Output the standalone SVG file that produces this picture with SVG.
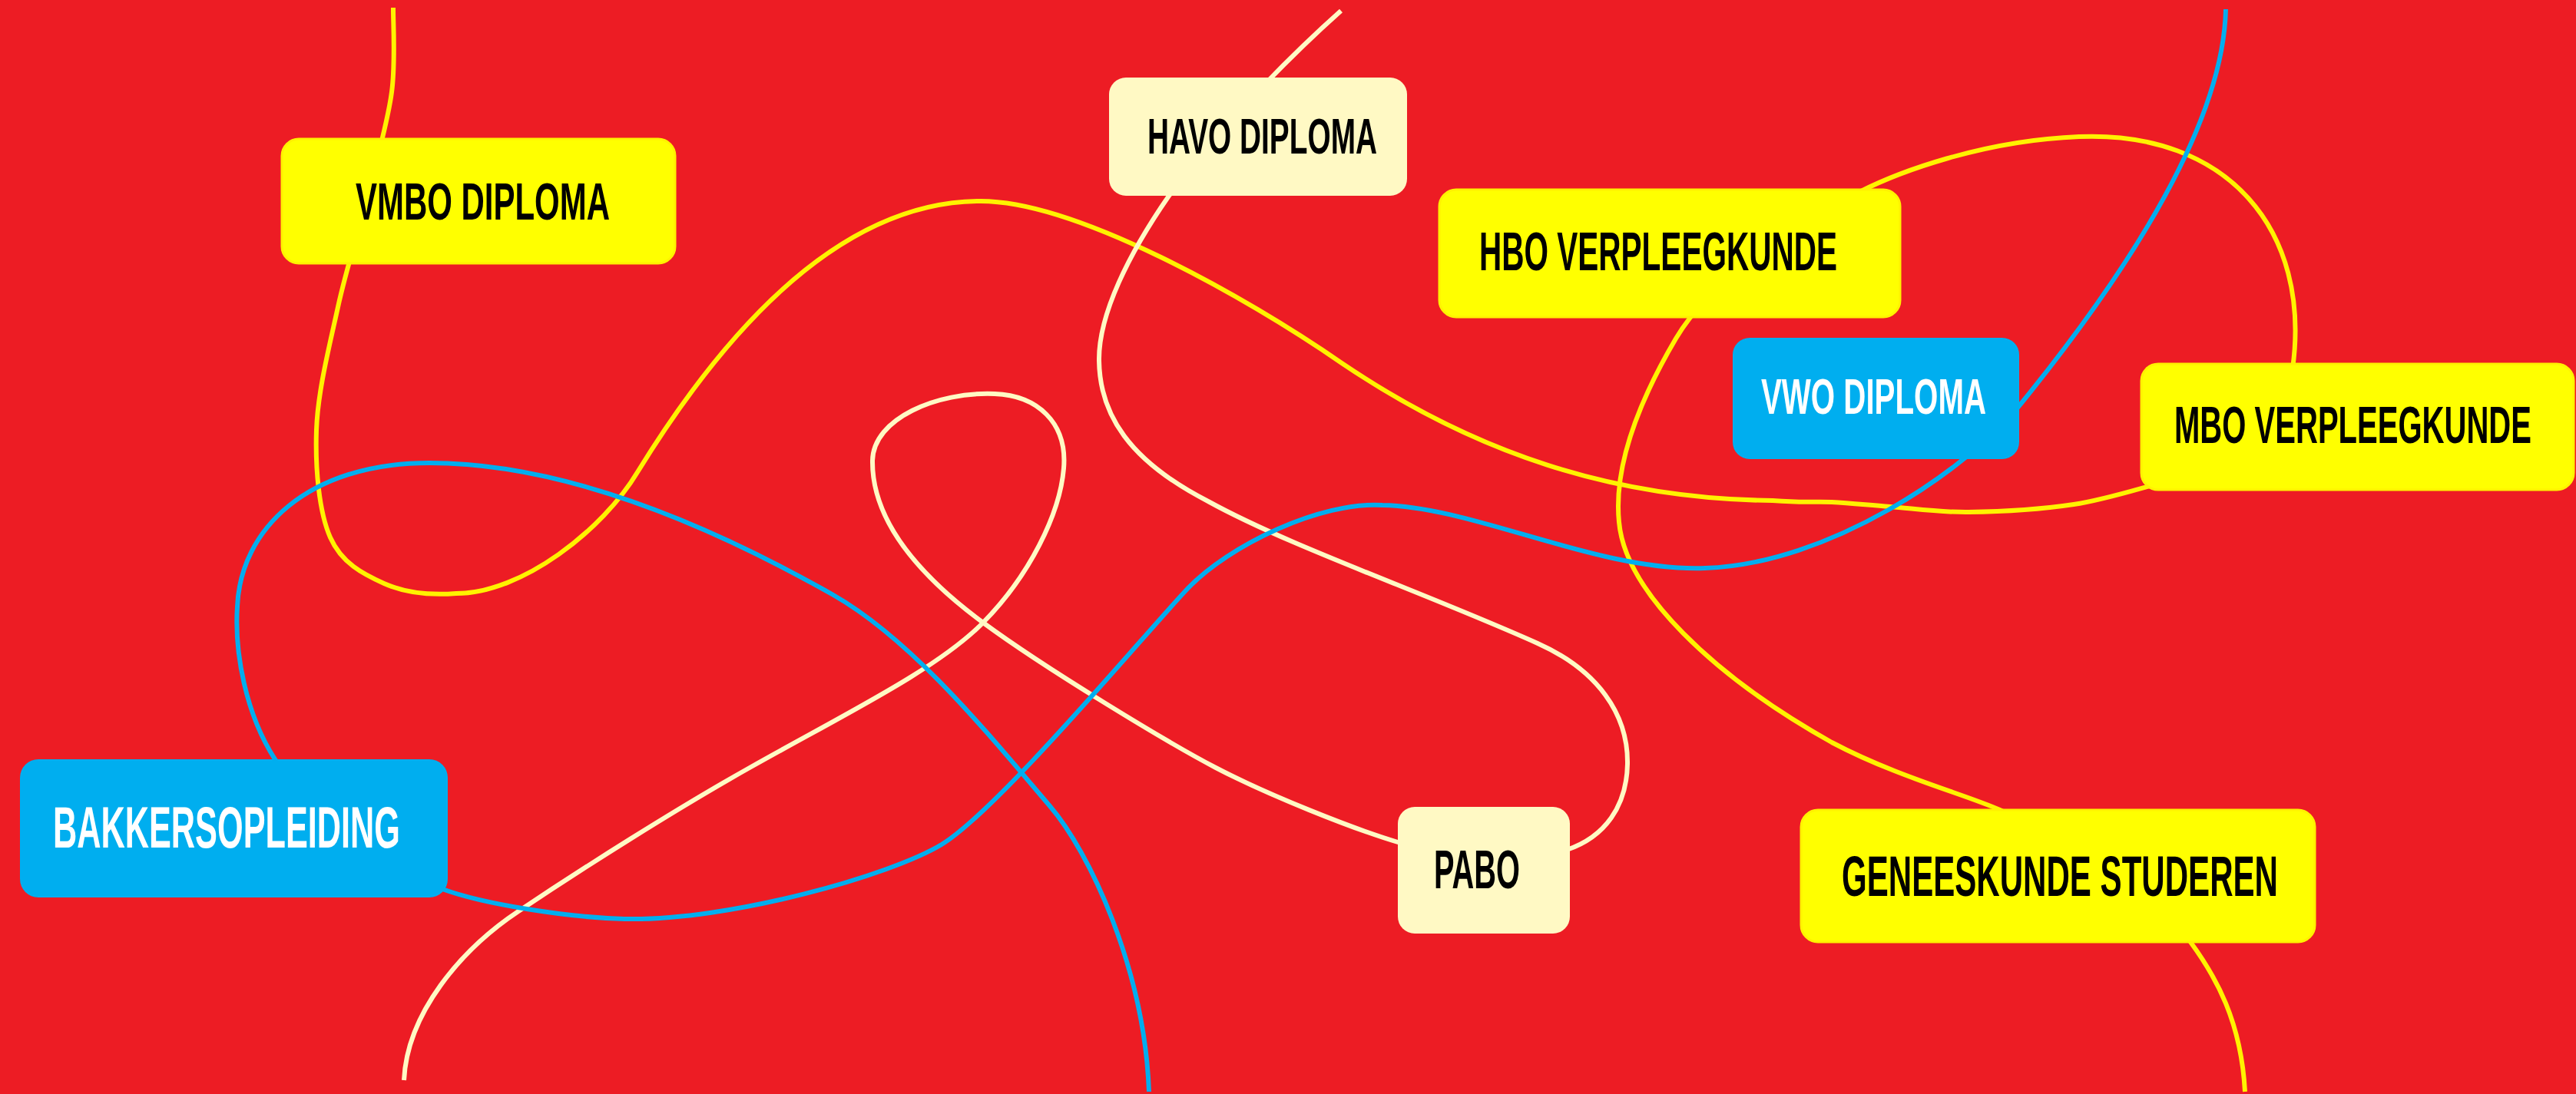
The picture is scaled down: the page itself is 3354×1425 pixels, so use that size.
<svg xmlns="http://www.w3.org/2000/svg" width="3354" height="1425" viewBox="0 0 3354 1425">
<style>
.ln{fill:none;stroke-width:6;stroke-linecap:butt;stroke-linejoin:round}
.y{stroke:#FFF200}
.c{stroke:#FFF9C4}
.b{stroke:#00AEEF}
.ny{fill:#FFFF00;stroke:#FFF200;stroke-width:3}
.nc{fill:#FFF9C4}
.nb{fill:#00AEEF}
.t{font-family:"Liberation Sans",Arial,sans-serif;font-weight:700}
.tk{fill:#000}
.tw{fill:#fff}
</style>
<rect x="0" y="0" width="3354" height="1425" fill="#ED1C24"/>
<g id="connectors">
<path class="ln y" d="M512,10 C511.7,28.3 515.3,80 510,120 C504.7,160 491.7,203.3 480,250 C468.3,296.7 451.3,348.3 440,400 C428.7,451.7 413.7,510 412,560 C410.3,610 415.3,666.7 430,700 C444.7,733.3 472.7,747.8 500,760 C527.3,772.2 559.8,775.7 594,773 C680,773 785,690 830,615 C950,420 1100,262 1277,262 C1400,262 1620,385 1747,473 C1920,590 2100,650 2308,652 C2354.8,655.5 2359.5,652.7 2385,654 C2410.5,655.3 2431.3,657.8 2461,660 C2490.7,662.2 2523.2,667.5 2563,667 C2602.8,666.5 2658.8,663.2 2700,657 C2741.2,650.8 2791.7,634.5 2810,630"/>
<path class="ln y" d="M2985,480 C3010,300 2900,170 2707,178 C2580,183 2470,225 2421,250 C2330,300 2230,360 2182,441 C2142,509 2100,600 2108,680 C2116,770 2230,880 2385,967 C2470,1012 2560,1035 2604,1055 C2700,1099 2810,1170 2852,1227 C2885,1272 2918,1330 2923,1422"/>
<path class="ln c" d="M1746,14 C1700,55 1600,150 1522,255 C1470,330 1430,410 1431,470 C1432,540 1470,600 1573,653 C1680,712 1850,770 2002,838 C2080,873 2120,930 2119,995 C2118,1050 2090,1090 2040,1107 C2000,1120 1880,1115 1820,1097 C1760,1079 1650,1035 1583,1000 C1520,967 1360,870 1280,811 C1200,752 1135,680 1136,600 C1137,545 1220,510 1295,513 C1350,515 1390,550 1385,610 C1380,670 1340,750 1280,811 C1220,872 1100,930 976,1000 C880,1054 760,1130 675,1187 C600,1237 530,1320 526,1407"/>
<path class="ln b" d="M2898,12 C2895,150 2790,330 2632,525 C2560,614 2380,735 2220,740 C2080,745 1920,660 1800,658 C1720,653 1600,710 1546,767 C1492,824 1300,1055 1226,1100 C1160,1140 950,1200 813,1197 C740,1195 630,1178 576,1158 L530,1130"/>
<path class="ln b" d="M372,1010 C366,1000 362,995 358,989 C320,930 305,850 309,790 C313,690 400,603 559,603 C720,603 900,670 1085,775 C1190,835 1290,960 1367,1050 C1417,1108 1490,1260 1496,1422"/>
</g>
<g id="vmbo"><rect class="ny" x="367" y="181" width="512" height="162" rx="22"/><text class="t tk" font-size="42" textLength="331" lengthAdjust="spacingAndGlyphs" transform="translate(463,286) scale(1,1.63)">VMBO DIPLOMA</text></g>
<g id="havo"><rect class="nc" x="1444" y="101" width="388" height="154" rx="22"/><text class="t tk" font-size="38.4" textLength="299" lengthAdjust="spacingAndGlyphs" transform="translate(1494,200) scale(1,1.673)">HAVO DIPLOMA</text></g>
<g id="hbo"><rect class="ny" x="1874" y="247" width="600" height="166" rx="22"/><text class="t tk" font-size="40.5" textLength="466" lengthAdjust="spacingAndGlyphs" transform="translate(1926,352) scale(1,1.724)">HBO VERPLEEGKUNDE</text></g>
<g id="vwo"><rect class="nb" x="2256" y="440" width="373" height="158" rx="22"/><text class="t tw" font-size="40.3" textLength="293" lengthAdjust="spacingAndGlyphs" transform="translate(2293,539) scale(1,1.63)">VWO DIPLOMA</text></g>
<g id="mbo"><rect class="ny" x="2788" y="474" width="563" height="164" rx="22"/><text class="t tk" font-size="40" textLength="465" lengthAdjust="spacingAndGlyphs" transform="translate(2831,577) scale(1,1.71)">MBO VERPLEEGKUNDE</text></g>
<g id="bakkers"><rect class="nb" x="26" y="989" width="557" height="180" rx="24"/><text class="t tw" font-size="43.3" textLength="452" lengthAdjust="spacingAndGlyphs" transform="translate(69,1104) scale(1,1.74)">BAKKERSOPLEIDING</text></g>
<g id="pabo"><rect class="nc" x="1820" y="1051" width="224" height="165" rx="22"/><text class="t tk" font-size="38.8" textLength="112" lengthAdjust="spacingAndGlyphs" transform="translate(1867,1157) scale(1,1.8)">PABO</text></g>
<g id="geneeskunde"><rect class="ny" x="2345" y="1055" width="669" height="172" rx="22"/><text class="t tk" font-size="42.1" textLength="568" lengthAdjust="spacingAndGlyphs" transform="translate(2398,1167) scale(1,1.76)">GENEESKUNDE STUDEREN</text></g>
</svg>
